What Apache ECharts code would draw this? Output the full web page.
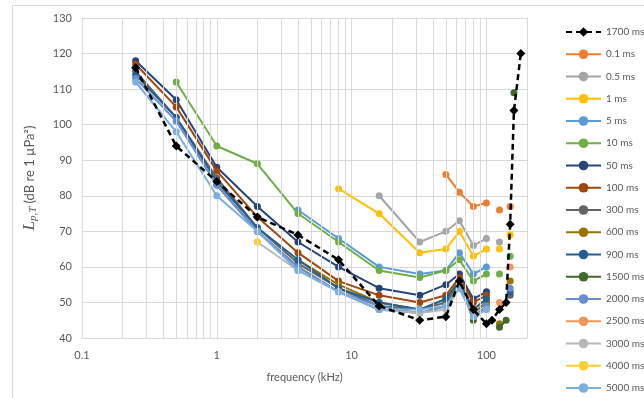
<!DOCTYPE html>
<html>
<head>
<meta charset="utf-8">
<script src="https://cdn.jsdelivr.net/npm/echarts@6/dist/echarts.min.js"></script>
<style>
  html, body { margin: 0; padding: 0; background: #fff; }
  #chart { width: 644px; height: 398px; }
</style>
</head>
<body>
<div id="chart"></div>
<script>
// Frequency rows of the threshold table (kHz)
const freqKHz = [0.25, 0.5, 1, 2, 4, 8, 16, 32, 50, 63, 80, 100, 110, 125, 140, 150, 160, 180];

// Threshold L_p,T (dB re 1 µPa²) per signal duration; null = not measured
const n = null;
const ms1700 = [116, 94, 84, 74, 69, 62, 49, 45, 46, 56, 48, 44, 45, 48, 50, 72, 104, 120];
const ms0_1  = [n, n, n, n, n, n, n, n, 86, 81, 77, 78, n, 76, n, 77, n, n];
const ms0_5  = [n, n, n, n, n, n, 80, 67, 70, 73, 66, 68, n, 67, n, n, n, n];
const ms1    = [n, n, n, n, n, 82, 75, 64, 65, 70, 63, 65, n, 65, n, 69, n, n];
const ms5    = [n, n, n, n, 76, 68, 60, 58, 59, 64, 58, 60, n, n, n, n, n, n];
const ms10   = [n, 112, 94, 89, 75, 67, 59, 57, 59, 62, 56, 58, n, 58, n, 63, n, n];
const ms50   = [118, 107, 88, 77, 67, 60, 54, 52, 55, 58, 51, 53, n, n, n, n, n, n];
const ms100  = [117, 105, 87, 74, 64, 56, 52, 50, 52, 57, 50, 52, n, n, n, n, n, n];
const ms300  = [115, 102, 85, 71, 61, 54, 49, 48, 50, 55, 47, 50, n, n, n, 52, n, n];
const ms600  = [n, n, n, n, 62, 55, 50, 48, 51, 56, 47, 50, n, 44, n, 56, n, n];
const ms900  = [114, 102, 84, 71, 62, 54, 50, 48, 51, 56, 48, 51, n, n, n, 53, n, n];
const ms1500 = [n, n, 83, 70, 60, 53, 48, 47, 49, 56, 45, 49, n, 43, 45, n, 109, n];
const ms2000 = [113, 101, 83, 70, 60, 53, 49, 47, 49, 55, 46, 49, n, n, n, 54, n, n];
const ms2500 = [n, n, n, n, n, n, n, n, n, n, n, n, n, 50, n, 60, n, n];
const ms3000 = [n, n, n, 67, 59, 53, 48, 47, 48, 54, 46, 48, n, n, n, n, n, n];
const ms4000 = [n, n, n, 67, n, n, n, n, n, n, n, n, n, n, n, n, n, n];
const ms5000 = [112, 98, 80, 70, 59, 53, 48, 48, 49, 54, 46, 48, n, n, n, n, n, n];

// Axis ticks
const yTicks = [40, 50, 60, 70, 80, 90, 100, 110, 120, 130];
const xMajor = [0.1, 1, 10, 100];
const xMinor = [0.2, 0.3, 0.4, 0.5, 0.6, 0.7, 0.8, 0.9,
                2, 3, 4, 5, 6, 7, 8, 9,
                20, 30, 40, 50, 60, 70, 80, 90, 200];

const seriesDefs = [
  { name: '1700 ms', values: ms1700, color: '#000000', dashed: true },
  { name: '0.1 ms',  values: ms0_1,  color: '#ED7D31' },
  { name: '0.5 ms',  values: ms0_5,  color: '#A5A5A5' },
  { name: '1 ms',    values: ms1,    color: '#FFC000' },
  { name: '5 ms',    values: ms5,    color: '#5B9BD5' },
  { name: '10 ms',   values: ms10,   color: '#70AD47' },
  { name: '50 ms',   values: ms50,   color: '#264478' },
  { name: '100 ms',  values: ms100,  color: '#9E480E' },
  { name: '300 ms',  values: ms300,  color: '#636363' },
  { name: '600 ms',  values: ms600,  color: '#997300' },
  { name: '900 ms',  values: ms900,  color: '#255E91' },
  { name: '1500 ms', values: ms1500, color: '#43682B' },
  { name: '2000 ms', values: ms2000, color: '#698ED0' },
  { name: '2500 ms', values: ms2500, color: '#F1975A' },
  { name: '3000 ms', values: ms3000, color: '#B7B7B7' },
  { name: '4000 ms', values: ms4000, color: '#FFCD33' },
  { name: '5000 ms', values: ms5000, color: '#7CAFDD' }
];

const textColor = '#595959';
const gridColor = '#D9D9D9';
const font = 'Lato, "Open Sans", sans-serif';

const lineSeries = seriesDefs.map((d, i) => ({
  name: d.name,
  type: 'line',
  data: freqKHz.map((f, k) => [f, d.values[k] === null ? '-' : d.values[k]]),
  connectNulls: false,
  symbol: d.dashed ? 'diamond' : 'circle',
  symbolSize: d.dashed ? 9 : 7,
  showSymbol: true,
  z: d.dashed ? 20 : 3 + i * 0.01,
  itemStyle: { color: d.color },
  lineStyle: { color: d.color, width: d.dashed ? 2.5 : 2, type: d.dashed ? [6, 4] : 'solid' },
  emphasis: { disabled: true },
  animation: false
}));

// Minor vertical grid lines of the logarithmic frequency axis
const minorGrid = {
  name: 'minor-grid',
  type: 'line',
  data: [],
  silent: true,
  z: 1,
  markLine: {
    silent: true,
    symbol: ['none', 'none'],
    label: { show: false },
    animation: false,
    lineStyle: { color: gridColor, width: 1, type: 'solid' },
    data: xMinor.map(v => ({ xAxis: v }))
  }
};

const chart = echarts.init(document.getElementById('chart'), null, { renderer: 'canvas' });
chart.setOption({
  backgroundColor: '#ffffff',
  animation: false,
  textStyle: { fontFamily: font },
  graphic: [{
    type: 'rect', left: 10, top: 3, z: -10,
    shape: { width: 633, height: 393 },
    style: { fill: 'none', stroke: gridColor, lineWidth: 1 }
  }],
  grid: { left: 82, right: 117, top: 18, bottom: 60, containLabel: false },
  xAxis: {
    type: 'log',
    logBase: 10,
    min: 0.1,
    max: 200,
    name: 'frequency (kHz)',
    nameLocation: 'middle',
    nameGap: 34,
    nameTextStyle: { color: textColor, fontSize: 11, fontFamily: font },
    axisLine: { show: true, lineStyle: { color: gridColor } },
    axisTick: { show: false },
    axisLabel: {
      color: textColor, fontSize: 11, fontFamily: font, margin: 12,
      showMaxLabel: false,
      formatter: v => (xMajor.some(t => Math.abs(t - v) < 1e-9) ? String(v) : '')
    },
    splitLine: { show: true, lineStyle: { color: gridColor } }
  },
  yAxis: {
    type: 'value',
    min: yTicks[0],
    max: yTicks[yTicks.length - 1],
    interval: 10,
    name: '{L|L}{sub|p,T} {u|(dB re 1 µPa²)}',
    nameLocation: 'middle',
    nameGap: 43,
    nameRotate: 90,
    nameTextStyle: {
      color: textColor,
      rich: {
        L: { fontFamily: '"Liberation Serif", serif', fontStyle: 'italic', fontSize: 17, color: textColor },
        sub: { fontFamily: '"Liberation Serif", serif', fontStyle: 'italic', fontSize: 11, color: textColor, padding: [8, 0, 0, 0] },
        u: { fontFamily: font, fontSize: 13, color: textColor }
      }
    },
    axisLine: { show: false },
    axisTick: { show: false },
    axisLabel: { color: textColor, fontSize: 11, fontFamily: font, margin: 10 },
    splitLine: { show: true, lineStyle: { color: gridColor } }
  },
  legend: {
    orient: 'vertical',
    left: 565,
    top: 26,
    padding: 0,
    height: 372,
    itemWidth: 35,
    itemHeight: 12,
    itemGap: 10.25,
    data: seriesDefs.map(d => d.name),
    textStyle: { color: textColor, fontSize: 10, fontFamily: font, lineHeight: 12 },
    selectedMode: false
  },
  series: [minorGrid].concat(lineSeries)
});
</script>
</body>
</html>
